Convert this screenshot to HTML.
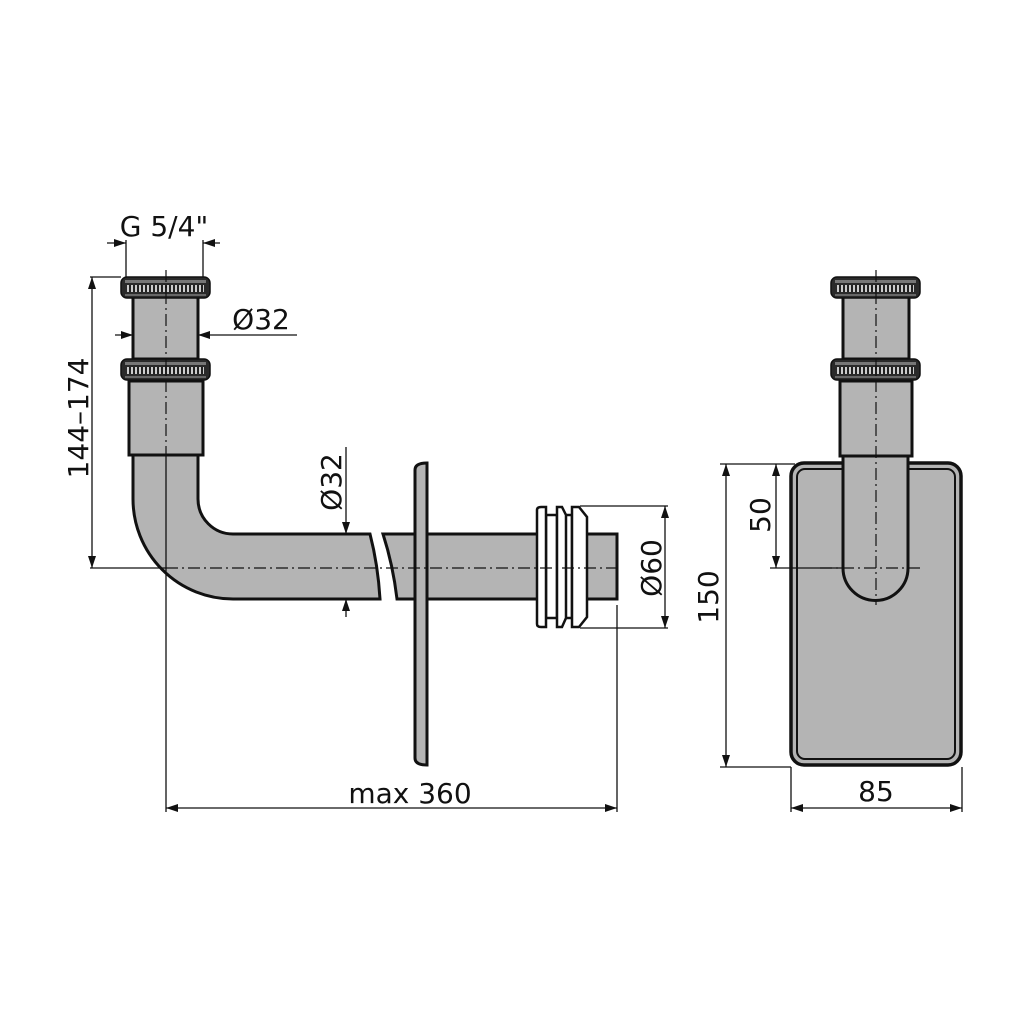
<!DOCTYPE html>
<html><head><meta charset="utf-8"><style>
html,body{margin:0;padding:0;background:#fff}
svg{display:block}
text{font-family:"DejaVu Sans","Liberation Sans",sans-serif;fill:#111}
</style></head><body>
<svg width="1024" height="1024" viewBox="0 0 1024 1024" xmlns="http://www.w3.org/2000/svg">
<defs>
<marker id="ar" viewBox="0 0 12 8" refX="12" refY="4" markerWidth="12" markerHeight="8" markerUnits="userSpaceOnUse" orient="auto-start-reverse">
<path d="M0,0 L12,4 L0,8 Z" fill="#111"/>
</marker>
<g id="nut">
<rect x="0" y="0" width="89" height="21" rx="6" fill="#2a2a2a" stroke="#111" stroke-width="1.5"/>
<rect x="4" y="3" width="81" height="3" fill="#777"/>
<rect x="6" y="8" width="77" height="7" fill="#ccc"/>
<path d="M9,8v7M13,8v7M17,8v7M21,8v7M25,8v7M29,8v7M33,8v7M37,8v7M41,8v7M45,8v7M49,8v7M53,8v7M57,8v7M61,8v7M65,8v7M69,8v7M73,8v7M77,8v7M81,8v7" stroke="#222" stroke-width="2"/>
<rect x="4" y="17" width="81" height="2" fill="#666"/>
</g>
</defs>
<g stroke="#111" stroke-width="3" fill="#b4b4b4">
<rect x="133" y="297" width="65" height="62"/>
<path d="M129,381 H203 V455 H129 Z"/>
<path d="M133,455 V499 A100,100 0 0 0 233,599 H380 Q378,565 370,534 H233 A35,35 0 0 1 198,499 V455 Z"/>
<path d="M383,534 H617 V599 H397 Q393,565 383,534 Z"/>
<path d="M415,470 Q415,463 427,463 V765 Q415,765 415,758 Z"/>
<g fill="#fff" stroke-width="2.5">
<rect x="546" y="515" width="11" height="103"/>
<rect x="565" y="515" width="7" height="103"/>
<path d="M537,510 Q537,507 541,507 H546 V627 H541 Q537,627 537,624 Z"/>
<path d="M557,507 H562 L566,515 V618 L562,627 H557 Z"/>
<path d="M572,507 H579 L587,517 V617 L579,627 H572 Z"/>
</g>
<rect x="843" y="297" width="66" height="62"/>
<rect x="840" y="381" width="72" height="75"/>
<rect x="791" y="463" width="170" height="302" rx="13" fill="#b4b4b4" stroke-width="3.5"/>
<rect x="797" y="469" width="158" height="290" rx="8" fill="none" stroke-width="2"/>
<path d="M843,456 V568 A32.5,32.5 0 0 0 908,568 V456 Z"/>
</g>
<use href="#nut" x="121" y="277"/>
<use href="#nut" x="121" y="359"/>
<use href="#nut" x="831" y="277"/>
<use href="#nut" x="831" y="359"/>
<g stroke="#111" stroke-width="1.2" fill="none" stroke-dasharray="12,4,2,4">
<path d="M166,270 V455"/>
<path d="M166,568 H620"/>
<path d="M876,270 V605"/>
<path d="M820,568 H922"/>
</g>
<g stroke="#111" stroke-width="1.3" fill="none">
<path d="M166,455 V812"/>
<path d="M90,277 H121"/>
<path d="M90,568 H166"/>
<path d="M92,277 V568" marker-start="url(#ar)" marker-end="url(#ar)"/>
<path d="M126,240 V277 M203,240 V277"/>
<path d="M107,243 H126" marker-end="url(#ar)"/>
<path d="M220,243 H203" marker-end="url(#ar)"/>
<path d="M115,335 H133" marker-end="url(#ar)"/>
<path d="M297,335 H198" marker-end="url(#ar)"/>
<path d="M346,447 V534" marker-end="url(#ar)"/>
<path d="M346,617 V599" marker-end="url(#ar)"/>
<path d="M580,506 H668 M580,628 H668"/>
<path d="M665,506 V628" marker-start="url(#ar)" marker-end="url(#ar)"/>
<path d="M617,605 V812"/>
<path d="M166,808 H617" marker-start="url(#ar)" marker-end="url(#ar)"/>
<path d="M720,464 H795 M720,767 H791"/>
<path d="M726,464 V767" marker-start="url(#ar)" marker-end="url(#ar)"/>
<path d="M776,464 V568" marker-start="url(#ar)" marker-end="url(#ar)"/>
<path d="M770,568 H843"/>
<path d="M791,767 V812 M962,767 V812"/>
<path d="M791,808 H962" marker-start="url(#ar)" marker-end="url(#ar)"/>
</g>
<g font-size="28">
<text x="164" y="236" text-anchor="middle">G 5/4"</text>
<text x="261" y="329" text-anchor="middle">Ø32</text>
<text x="410" y="803" text-anchor="middle">max 360</text>
<text x="876" y="801" text-anchor="middle">85</text>
<text transform="translate(88,418) rotate(-90)" text-anchor="middle">144–174</text>
<text transform="translate(341,482) rotate(-90)" text-anchor="middle">Ø32</text>
<text transform="translate(661,568) rotate(-90)" text-anchor="middle">Ø60</text>
<text transform="translate(718,597) rotate(-90)" text-anchor="middle">150</text>
<text transform="translate(770,515) rotate(-90)" text-anchor="middle">50</text>
</g>
</svg>
</body></html>
